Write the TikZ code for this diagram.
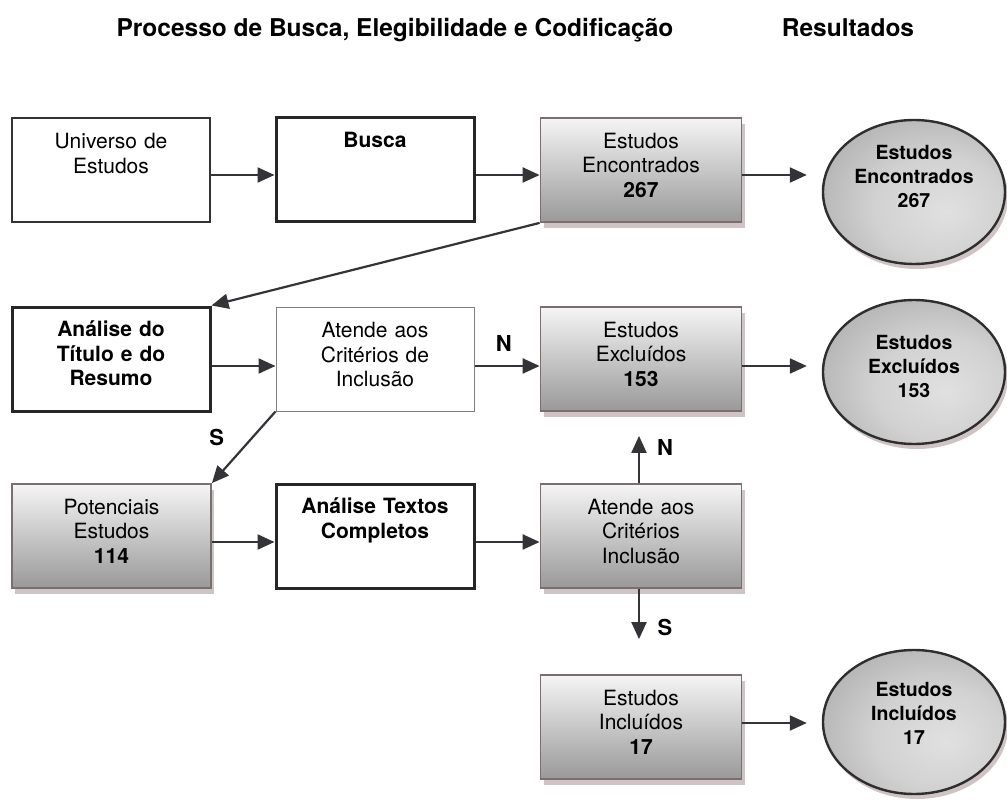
\documentclass[tikz,border=0pt]{standalone}
\usepackage{fontspec}
\setmainfont{TeX Gyre Heros}
\usetikzlibrary{arrows.meta,shapes.geometric,shadows}
\definecolor{boxedge}{HTML}{7A6F6F}
\definecolor{shadowc}{HTML}{CFC3C3}
\definecolor{arrowc}{HTML}{333338}
\pgfdeclareradialshading{ovalshade}{\pgfpoint{9bp}{-7bp}}{color(0bp)=(black!12); color(18bp)=(black!18); color(34bp)=(black!30); color(50bp)=(black!50); color(60bp)=(black!62); color(80bp)=(black!62)}
\newcommand{\tstrut}{\rule{0pt}{20pt}}
\begin{document}
\begin{tikzpicture}[x=1pt,y=-1pt,
  plainbox/.style={draw=black!80, line width=1.3pt, fill=white, inner sep=0pt},
  thickbox/.style={draw=black!85, line width=3pt, fill=white, inner sep=0pt},
  lightbox/.style={draw=black!50, line width=1pt, fill=white, inner sep=0pt},
  gradbox/.style={draw=boxedge, line width=1.8pt, top color=black!4, bottom color=black!40, inner sep=0pt,
     drop shadow={shadow xshift=3pt, shadow yshift=-6pt, fill=shadowc, opacity=1}},
  oval/.style={ellipse, draw=black!82, line width=2.4pt, shading=ovalshade,
     minimum width=182pt, minimum height=144pt, inner sep=0pt,
     drop shadow={shadow xshift=3pt, shadow yshift=-5pt, fill=shadowc, opacity=1}},
  ovaltxt/.style={align=center, inner sep=0pt, font=\fontsize{19.5}{24}\selectfont\bfseries},
  txt/.style={anchor=north, align=center, inner sep=0pt, text width=196pt, font=\fontsize{21}{24.5}\selectfont},
  lbl/.style={inner sep=0pt, font=\fontsize{22}{24}\selectfont\bfseries},
  ttl/.style={inner sep=0pt, anchor=base, font=\fontsize{24.5}{28}\selectfont\bfseries},
  arr/.style={draw=arrowc, line width=2.2pt, -{Triangle[length=17pt,width=15pt]}}
]
\useasboundingbox (0,0) rectangle (1007,805);

% titles
\node[ttl] (t1) at (395,37) {Processo de Busca, Elegibilidade e Codificação};
\node[ttl] (t2) at (848,37) {Resultados};

% row 1  (top 118, bottom 222)
\node[plainbox, minimum width=198pt, minimum height=104pt] (u) at (111,170) {};
\node[txt] (ut) at ([yshift=-11pt]u.north) {\tstrut Universo de\\Estudos};
\node[thickbox, minimum width=198pt, minimum height=104pt] (b) at (375,170) {};
\node[txt] (bt) at ([yshift=-11pt]b.north) {\tstrut\bfseries Busca};
\node[gradbox, minimum width=201pt, minimum height=104pt] (enc) at (641,170) {};
\node[txt] (enct) at ([yshift=-11pt]enc.north) {\tstrut Estudos\\Encontrados\\\bfseries 267};
\node[oval] (e1) at (914,192) {};
\node[ovaltxt] (e1t) at (914,176) {Estudos\\Encontrados\\267};

% row 2  (top 307, bottom 411)
\node[thickbox, minimum width=198pt, minimum height=104pt] (ana) at (111,359) {};
\node[txt] (anat) at ([yshift=-11pt]ana.north) {\tstrut\bfseries Análise do\\Título e do\\Resumo};
\node[lightbox, minimum width=198pt, minimum height=104pt] (at2) at (375,359) {};
\node[txt] (at2t) at ([yshift=-11pt]at2.north) {\tstrut Atende aos\\Critérios de\\Inclusão};
\node[gradbox, minimum width=201pt, minimum height=104pt] (exc) at (641,359) {};
\node[txt] (exct) at ([yshift=-11pt]exc.north) {\tstrut Estudos\\Excluídos\\\bfseries 153};
\node[oval] (e2) at (914,372) {};
\node[ovaltxt] (e2t) at (914,366) {Estudos\\Excluídos\\153};

% row 3  (top 484, bottom 588)
\node[gradbox, minimum width=199pt, minimum height=104pt] (pot) at (111.5,536) {};
\node[txt] (pott) at ([yshift=-11pt]pot.north) {\tstrut Potenciais\\Estudos\\\bfseries 114};
\node[thickbox, minimum width=198pt, minimum height=104pt] (tex) at (375,536) {};
\node[txt] (text) at ([yshift=-11pt]tex.north) {\tstrut\bfseries Análise Textos\\Completos};
\node[gradbox, minimum width=201pt, minimum height=104pt] (at3) at (641,536) {};
\node[txt] (at3t) at ([yshift=-11pt]at3.north) {\tstrut Atende aos\\Critérios\\Inclusão};

% row 4  (top 675, bottom 779)
\node[gradbox, minimum width=201pt, minimum height=104pt] (inc) at (641,727) {};
\node[txt] (inct) at ([yshift=-11pt]inc.north) {\tstrut Estudos\\Incluídos\\\bfseries 17};
\node[oval] (e3) at (914,722) {};
\node[ovaltxt] (e3t) at (914,713) {Estudos\\Incluídos\\17};

% connectors
\draw[arr] ([yshift=-5pt]u.east) -- ([yshift=-5pt]b.west);
\draw[arr] ([yshift=-5pt]b.east) -- ([yshift=-5pt]enc.west);
\draw[arr, shorten >=15pt] ([yshift=-5pt]enc.east) -- ([yshift=-5pt]enc.east -| e1.west);
\draw[arr] (enc.south west) -- (ana.north east);
\draw[arr] ([yshift=-7pt]ana.east) -- ([yshift=-7pt]at2.west);
\draw[arr] ([yshift=-7pt]at2.east) -- ([yshift=-7pt]exc.west) node[lbl, pos=0.45, yshift=23pt] (n1) {N};
\draw[arr, shorten >=15pt] ([yshift=-7pt]exc.east) -- ([yshift=-7pt]exc.east -| e2.west);
\draw[arr] (at2.south west) -- (pot.north east) node[lbl, pos=0.36, xshift=-36pt, yshift=0pt] (s1) {S};
\draw[arr] ([yshift=-6pt]pot.east) -- ([yshift=-6pt]tex.west);
\draw[arr] ([yshift=-6pt]tex.east) -- ([yshift=-6pt]at3.west);
\draw[arr, shorten >=24pt] ([xshift=-2pt]at3.north) -- ([xshift=-2pt]exc.south) node[lbl, pos=0.5, xshift=26pt] (n2) {N};
\draw[arr, shorten >=35pt] ([xshift=-2pt]at3.south) -- ([xshift=-2pt]inc.north) node[lbl, pos=0.45, xshift=26pt] (s2) {S};
\draw[arr, shorten >=15pt] ([yshift=4pt]inc.east) -- ([yshift=4pt]inc.east -| e3.west);
\end{tikzpicture}
\end{document}
